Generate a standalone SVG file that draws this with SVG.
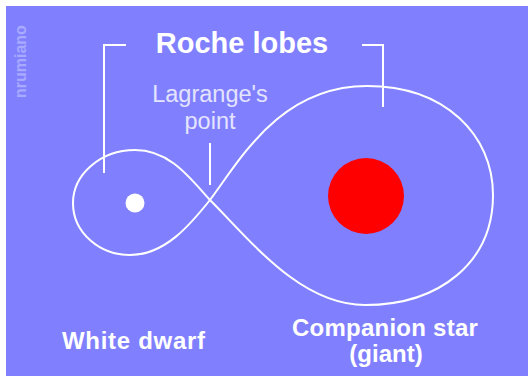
<svg xmlns="http://www.w3.org/2000/svg" width="528" height="376" viewBox="0 0 528 376">
  <style>
    .line { fill: none; stroke: #ffffff; stroke-width: 2; }
    .title { font-family: "Liberation Sans", Arial, sans-serif; font-weight: bold; fill: #ffffff; }
    .label { font-family: "Liberation Sans", Arial, sans-serif; font-weight: bold; fill: #ffffff; font-size: 24px; }
    .note { font-family: "Liberation Sans", Arial, sans-serif; fill: #e4e4ff; font-size: 23.5px; }
    .mark { font-family: "Liberation Sans", Arial, sans-serif; font-weight: bold; fill: #a9a9ff; font-size: 16px; }
  </style>
  <rect x="0" y="0" width="528" height="376" fill="#ffffff"/>
  <rect x="6" y="6" width="522" height="370" fill="#8080ff"/>

  <g id="watermark">
    <text class="mark" transform="translate(26,98) rotate(-90)">nrumiano</text>
  </g>

  <g id="roche-lobes">
    <path class="line" d="M 210 200 C 190 178, 170 150, 135 150 C 100 150, 73 175, 73 203 C 73 233, 100 255, 130 255 C 165 255, 190 225, 210 200 Z"/>
    <path class="line" d="M 210 200 C 240 160, 280 86, 367 86 C 445 86, 493 135, 493 195 C 493 262, 440 305, 365 305 C 300 305, 250 240, 210 200 Z"/>
  </g>

  <g id="connectors">
    <polyline class="line" points="126,45 104,45 104,173"/>
    <polyline class="line" points="362,45 383,45 383,107"/>
    <line class="line" x1="210" y1="143" x2="210" y2="185"/>
  </g>

  <g id="title">
    <text class="title" x="242" y="53" font-size="29" text-anchor="middle">Roche lobes</text>
  </g>

  <g id="lagrange-point">
    <text class="note" x="210" y="102" text-anchor="middle">Lagrange's</text>
    <text class="note" x="210" y="129" text-anchor="middle">point</text>
  </g>

  <g id="white-dwarf">
    <circle cx="135" cy="203" r="9.5" fill="#ffffff"/>
    <text class="label" x="62" y="349" letter-spacing="0.7">White dwarf</text>
  </g>

  <g id="companion-star">
    <circle cx="366" cy="196" r="38" fill="#ff0000"/>
    <text class="label" x="385" y="336" text-anchor="middle" letter-spacing="0.25">Companion star</text>
    <text class="label" x="386" y="362" text-anchor="middle">(giant)</text>
  </g>
</svg>
